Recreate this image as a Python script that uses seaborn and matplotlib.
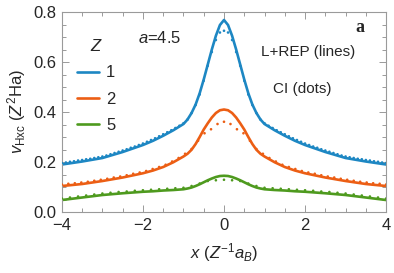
import numpy as np
import pandas as pd
import matplotlib
matplotlib.use("Agg")
import matplotlib.pyplot as plt
import seaborn as sns
from matplotlib.ticker import MultipleLocator

# ---------------- data ----------------
x_line = [-4, -3.5, -3, -2.5, -2, -1.75, -1.5, -1.25, -1, -0.9, -0.8, -0.7, -0.6,
          -0.5, -0.4, -0.3, -0.2, -0.1, 0, 0.1, 0.2, 0.3, 0.4, 0.5, 0.6, 0.7, 0.8,
          0.9, 1, 1.25, 1.5, 1.75, 2, 2.5, 3, 3.5, 4]

lrep_z1 = [0.190, 0.202, 0.216, 0.240, 0.268, 0.285, 0.305, 0.327, 0.352, 0.370,
           0.396, 0.430, 0.475, 0.530, 0.590, 0.650, 0.705, 0.748, 0.768, 0.748,
           0.705, 0.650, 0.590, 0.530, 0.475, 0.430, 0.396, 0.370, 0.352, 0.327,
           0.305, 0.285, 0.268, 0.240, 0.216, 0.202, 0.190]
lrep_z2 = [0.104, 0.112, 0.124, 0.138, 0.155, 0.166, 0.180, 0.199, 0.222, 0.233,
           0.249, 0.272, 0.300, 0.330, 0.355, 0.378, 0.396, 0.407, 0.410, 0.407,
           0.396, 0.378, 0.355, 0.330, 0.300, 0.272, 0.249, 0.233, 0.222, 0.199,
           0.180, 0.166, 0.155, 0.138, 0.124, 0.112, 0.104]
lrep_z5 = [0.048, 0.058, 0.068, 0.075, 0.081, 0.083, 0.086, 0.088, 0.091, 0.094,
           0.098, 0.104, 0.111, 0.119, 0.127, 0.134, 0.140, 0.144, 0.145, 0.144,
           0.140, 0.134, 0.127, 0.119, 0.111, 0.104, 0.098, 0.094, 0.091, 0.088,
           0.086, 0.083, 0.081, 0.075, 0.068, 0.058, 0.048]

# CI dots
x_ci_z1 = [round(-4 + 0.1 * k, 2) for k in range(81)]
ci_z1 = [0.196, 0.198, 0.201, 0.203, 0.206, 0.208, 0.211, 0.213, 0.216, 0.219,
         0.222, 0.226, 0.231, 0.236, 0.241, 0.246, 0.251, 0.257, 0.262, 0.268,
         0.274, 0.281, 0.288, 0.295, 0.303, 0.311, 0.319, 0.327, 0.336, 0.345,
         0.355, 0.370, 0.396, 0.428, 0.470, 0.525, 0.585, 0.640, 0.688, 0.718,
         0.725,
         0.718, 0.688, 0.640, 0.585, 0.525, 0.470, 0.428, 0.396, 0.370, 0.355,
         0.345, 0.336, 0.327, 0.319, 0.311, 0.303, 0.295, 0.288, 0.281, 0.274,
         0.268, 0.262, 0.257, 0.251, 0.246, 0.241, 0.236, 0.231, 0.226, 0.222,
         0.219, 0.216, 0.213, 0.211, 0.208, 0.206, 0.203, 0.201, 0.198, 0.196]

x_ci_z2 = [round(-4 + 0.16 * k, 2) for k in range(51)]
ci_z2 = [0.110, 0.113, 0.115, 0.118, 0.121, 0.125, 0.129, 0.133, 0.138, 0.142,
         0.147, 0.153, 0.158, 0.164, 0.172, 0.180, 0.189, 0.202, 0.216, 0.233,
         0.252, 0.285, 0.315, 0.331, 0.352, 0.361,
         0.352, 0.331, 0.315, 0.285, 0.252, 0.233, 0.216, 0.202, 0.189, 0.180,
         0.172, 0.164, 0.158, 0.153, 0.147, 0.142, 0.138, 0.133, 0.129, 0.125,
         0.121, 0.118, 0.115, 0.113, 0.110]

x_ci_z5 = [round(-4 + 0.2 * k, 2) for k in range(41)]
ci_z5 = [0.054, 0.058, 0.062, 0.066, 0.070, 0.074, 0.077, 0.080, 0.082, 0.085,
         0.087, 0.089, 0.091, 0.093, 0.095, 0.097, 0.104, 0.114, 0.124, 0.127,
         0.129,
         0.127, 0.124, 0.114, 0.104, 0.097, 0.095, 0.093, 0.091, 0.089, 0.087,
         0.085, 0.082, 0.080, 0.077, 0.074, 0.070, 0.066, 0.062, 0.058, 0.054]

z_labels = ["1", "2", "5"]
colors = ["#1D87C3", "#EC5E14", "#4E9A1E"]

# ---------------- frames ----------------
df_lines = pd.concat([
    pd.DataFrame({"x": x_line, "v": v, "Z": z})
    for v, z in zip([lrep_z1, lrep_z2, lrep_z5], z_labels)
], ignore_index=True)
df_dots = pd.concat([
    pd.DataFrame({"x": xx, "v": v, "Z": z})
    for xx, v, z in zip([x_ci_z1, x_ci_z2, x_ci_z5], [ci_z1, ci_z2, ci_z5], z_labels)
], ignore_index=True)

sns.set_style("ticks")
plt.rcParams["font.family"] = ["Liberation Sans", "DejaVu Sans"]
plt.rcParams["mathtext.fontset"] = "custom"
plt.rcParams["mathtext.rm"] = "Liberation Sans"
plt.rcParams["mathtext.it"] = "Liberation Sans:italic"
plt.rcParams["mathtext.bf"] = "Liberation Sans:bold"

fig = plt.figure(figsize=(3.94, 2.73), dpi=100)
ax = fig.add_axes([0.157, 0.2234, 0.823, 0.7326])

palette = dict(zip(z_labels, colors))
sns.scatterplot(data=df_dots, x="x", y="v", hue="Z", palette=palette, s=3.5,
                linewidth=0, marker="o", legend=False, ax=ax, zorder=3)
sns.lineplot(data=df_lines, x="x", y="v", hue="Z", palette=palette, lw=1.9,
             ax=ax, zorder=2, sort=True)

ax.set_xlim(-4, 4)
ax.set_ylim(0, 0.8)
ax.xaxis.set_major_locator(MultipleLocator(2))
ax.xaxis.set_minor_locator(MultipleLocator(0.5))
ax.yaxis.set_major_locator(MultipleLocator(0.2))
ax.yaxis.set_minor_locator(MultipleLocator(0.05))
ax.yaxis.set_major_formatter(matplotlib.ticker.FormatStrFormatter("%.1f"))
ax.xaxis.set_major_formatter(matplotlib.ticker.FuncFormatter(
    lambda v, p: ("\u2212%d" % abs(v)) if v < 0 else "%d" % v))

spine_col = "#9a9a9a"
for s in ax.spines.values():
    s.set_color(spine_col)
    s.set_linewidth(0.8)
ax.tick_params(which="both", direction="in", top=True, right=True,
               color=spine_col, labelsize=12, width=0.7)
ax.tick_params(which="major", length=5, pad=4)
ax.tick_params(which="minor", length=3)

ax.set_xlabel(r"$x$ ($Z^{-1}a_B$)", fontsize=12, labelpad=6)
ax.set_ylabel(r"$v_{\rm Hxc}$ ($Z^2$Ha)", fontsize=12, labelpad=4)

leg = ax.legend(title=r"$Z$", loc="upper left", bbox_to_anchor=(0.0, 0.945),
                frameon=False, fontsize=12, title_fontsize=12,
                handlelength=1.35, handletextpad=0.4, labelspacing=0.68)
for h in leg.get_lines():
    h.set_linewidth(1.9)

ax.text(0.235, 0.845, r"$a$=4.5", transform=ax.transAxes, fontsize=12)
ax.text(0.613, 0.80, "L+REP (lines)", transform=ax.transAxes, fontsize=11,
        ha="left", va="center")
ax.text(0.65, 0.615, "CI (dots)", transform=ax.transAxes, fontsize=11,
        ha="left", va="center")
ax.text(0.905, 0.925, "a", transform=ax.transAxes, fontsize=13,
        fontweight="bold", family="Liberation Serif", va="center")

fig.savefig("out.png", dpi=100)
